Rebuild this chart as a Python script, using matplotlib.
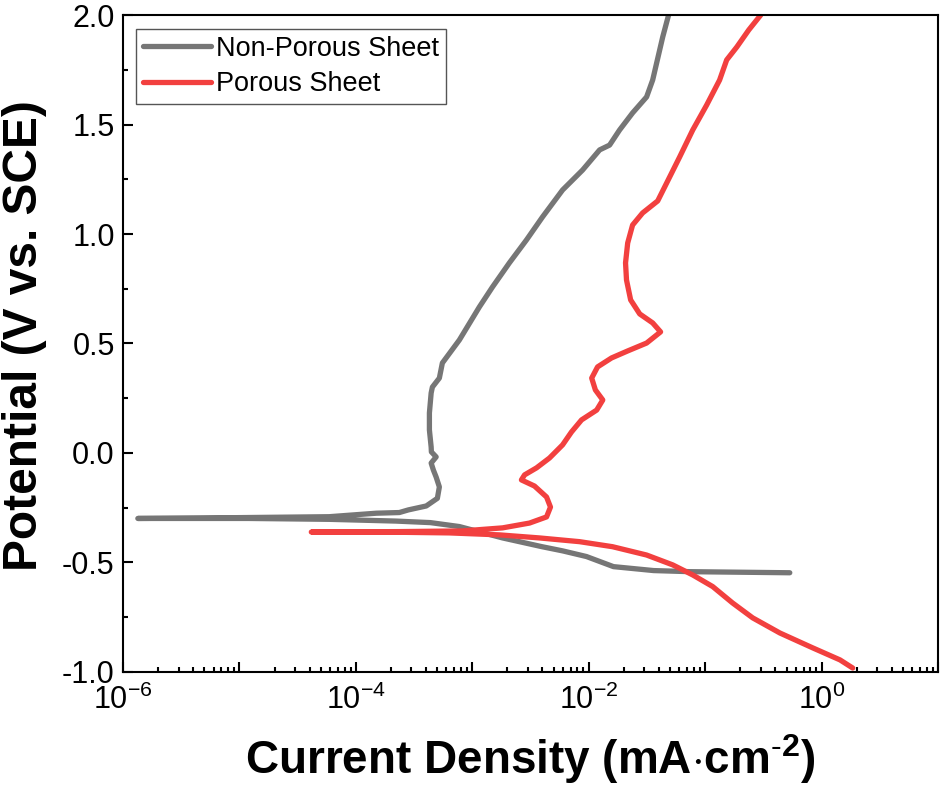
import matplotlib
matplotlib.use("Agg")
import matplotlib.pyplot as plt
from matplotlib.ticker import LogLocator, FuncFormatter, MultipleLocator, NullFormatter
import numpy as np

plt.rcParams['font.family'] = ['Liberation Sans', 'DejaVu Sans']
plt.rcParams['mathtext.fontset'] = 'custom'
plt.rcParams['mathtext.rm'] = 'Liberation Sans'
plt.rcParams['mathtext.it'] = 'Liberation Sans:italic'
plt.rcParams['mathtext.bf'] = 'Liberation Sans:bold'
plt.rcParams['axes.unicode_minus'] = False

# ---- data (current density in mA/cm^2, potential in V vs SCE) ----
nonporous_i = [0.533, 0.0736, 0.0361, 0.0163, 0.00957, 0.00596, 0.00397, 0.00182,
               7.74e-4, 4.37e-4, 2.21e-4, 5.90e-5, 1.21e-5, 1.34e-6,
               4.50e-6, 5.90e-5, 1.50e-4, 2.36e-4, 2.82e-4, 4.02e-4, 5.01e-4, 5.21e-4,
               4.89e-4, 4.63e-4, 4.43e-4, 4.89e-4, 4.45e-4, 4.43e-4, 4.28e-4, 4.28e-4,
               4.43e-4, 4.54e-4, 5.21e-4, 5.53e-4, 7.74e-4, 1.15e-3, 1.49e-3, 2.08e-3,
               2.92e-3, 4.01e-3, 5.96e-3, 8.85e-3, 0.0124, 0.0151, 0.0184, 0.0238,
               0.0314, 0.0354, 0.0383, 0.0432, 0.0485]
nonporous_v = [-0.547, -0.542, -0.537, -0.519, -0.473, -0.447, -0.428, -0.388,
               -0.336, -0.318, -0.311, -0.303, -0.299, -0.299,
               -0.297, -0.291, -0.275, -0.272, -0.260, -0.242, -0.207, -0.155,
               -0.110, -0.078, -0.046, -0.018, 0.005, 0.027, 0.105, 0.183,
               0.274, 0.301, 0.342, 0.411, 0.516, 0.667, 0.758, 0.868,
               0.973, 1.078, 1.201, 1.292, 1.384, 1.406, 1.475, 1.553,
               1.626, 1.703, 1.781, 1.900, 2.000]

porous_i = [1.85, 1.44, 0.839, 0.438, 0.256, 0.172, 0.116, 0.0782, 0.0526, 0.0314,
            0.0160, 8.34e-3, 3.78e-3, 1.71e-3, 6.35e-4, 1.59e-4, 4.14e-5,
            2.36e-4, 8.22e-4, 1.82e-3, 3.10e-3, 4.34e-3, 4.69e-3, 4.34e-3, 3.42e-3,
            2.64e-3, 2.81e-3, 3.56e-3, 4.60e-3, 5.96e-3, 7.11e-3, 8.67e-3, 0.0117,
            0.0132, 0.0114, 0.0106, 0.0119, 0.0157, 0.0216, 0.0314, 0.0414, 0.0354,
            0.0274, 0.0229, 0.0211, 0.0207, 0.0216, 0.0238, 0.0290, 0.0391, 0.0467,
            0.0604, 0.0782, 0.103, 0.133, 0.153, 0.187, 0.237, 0.300]
porous_v = [-0.982, -0.945, -0.890, -0.822, -0.753, -0.685, -0.610, -0.557, -0.511, -0.466,
            -0.428, -0.405, -0.388, -0.374, -0.365, -0.361, -0.361,
            -0.359, -0.356, -0.342, -0.320, -0.292, -0.247, -0.201, -0.151,
            -0.123, -0.100, -0.068, -0.023, 0.037, 0.096, 0.151, 0.196,
            0.242, 0.288, 0.342, 0.393, 0.434, 0.466, 0.502, 0.553, 0.594,
            0.635, 0.699, 0.790, 0.868, 0.959, 1.041, 1.096, 1.151, 1.233,
            1.352, 1.475, 1.589, 1.703, 1.795, 1.854, 1.932, 2.000]

labels = ["Non-Porous Sheet", "Porous Sheet"]
colors = ["#767676", "#F2403F"]

fig = plt.figure(figsize=(9.40, 7.99), dpi=100)
ax = fig.add_axes([0.1309, 0.159, 0.867, 0.8222])

ax.plot(nonporous_i, nonporous_v, color=colors[0], lw=3.8, label=labels[0],
        solid_capstyle='round', solid_joinstyle='round')
ax.plot(porous_i, porous_v, color=colors[1], lw=3.8, label=labels[1],
        solid_capstyle='round', solid_joinstyle='round')

ax.set_xscale('log')
ax.set_xlim(1e-6, 1e1)
ax.set_ylim(-1.0, 2.0)

ax.xaxis.set_major_locator(LogLocator(base=10, numticks=20))
ax.xaxis.set_minor_locator(LogLocator(base=10, subs=np.arange(2, 10), numticks=100))
ax.xaxis.set_minor_formatter(NullFormatter())

def fmt(x, pos):
    e = int(round(np.log10(x)))
    if e % 2 == 0:
        return r'$\mathregular{10^{%d}}$' % e
    return ''
ax.xaxis.set_major_formatter(FuncFormatter(fmt))

ax.yaxis.set_major_locator(MultipleLocator(0.5))
ax.yaxis.set_minor_locator(MultipleLocator(0.25))
ax.yaxis.set_major_formatter(FuncFormatter(lambda v, p: '%.1f' % v))

ax.tick_params(which='both', direction='in', top=False, right=False, width=1.5,
               labelsize=22, colors='black')
ax.tick_params(which='major', length=7)
ax.tick_params(which='minor', length=3.5)
ax.tick_params(axis='x', pad=9)
ax.tick_params(axis='y', pad=6)
for s in ax.spines.values():
    s.set_linewidth(1.5)

ax.set_xlabel(r'Current Density (mA$\cdot$cm$^{\text{-}\mathbf{2}}$)', fontsize=33,
              fontweight='bold', labelpad=12)
ax.set_ylabel('Potential (V vs. SCE)', fontsize=34.5, fontweight='bold')
ax.yaxis.set_label_coords(-0.093, 0.512)

leg = ax.legend(loc='upper left', bbox_to_anchor=(0.016, 0.979), fontsize=19.5,
                frameon=True, fancybox=False, framealpha=1, edgecolor='#555555',
                handlelength=2.5, handletextpad=0.2, labelspacing=0.35,
                borderpad=0.25, borderaxespad=0)
leg.get_frame().set_linewidth(1.0)
for line in leg.get_lines():
    line.set_linewidth(3.8)

fig.savefig('out.png', dpi=100)
